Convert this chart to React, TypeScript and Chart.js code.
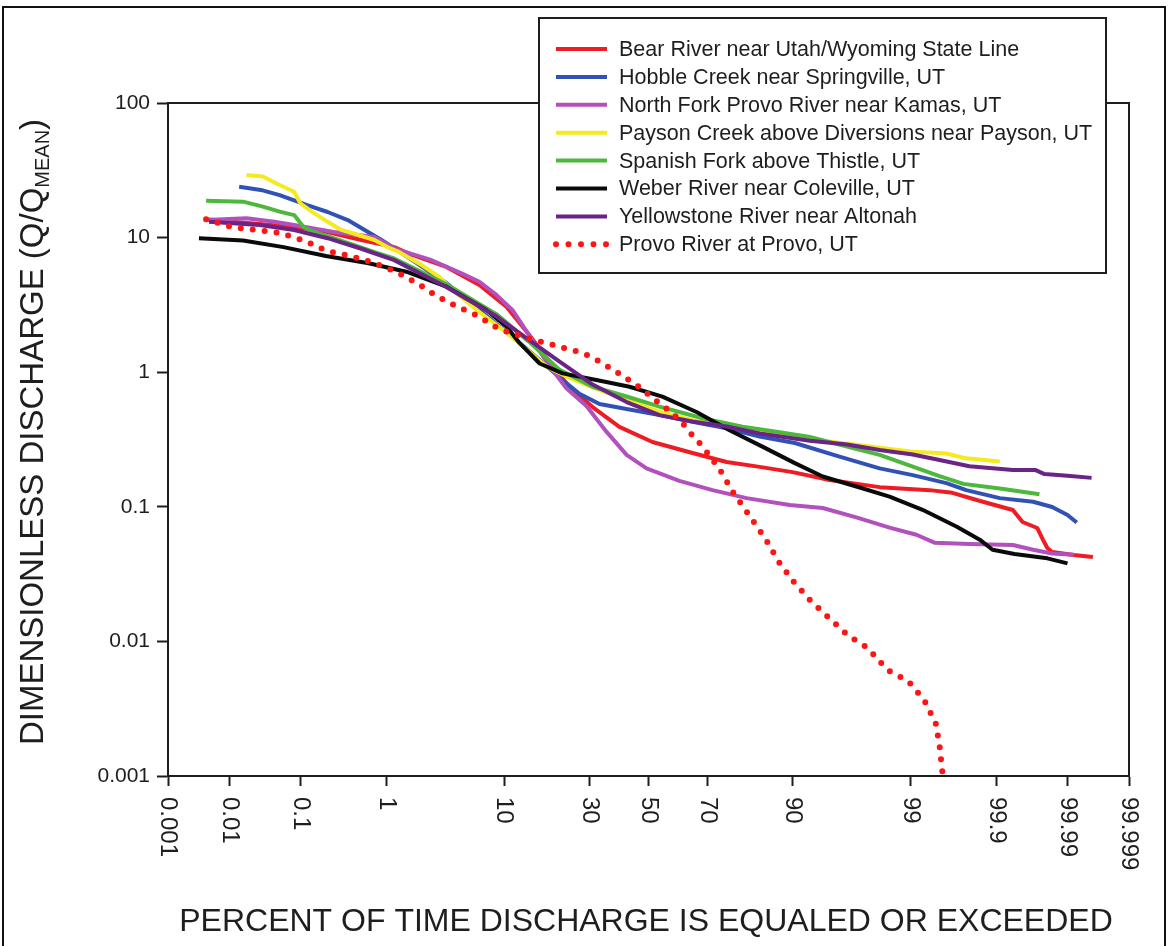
import React, { useEffect, useRef } from 'react';
import { Chart, Scale, registerables } from 'chart.js';

Chart.register(...registerables);

// ---------------- data ----------------
const X_TICKS = [0.001, 0.01, 0.1, 1, 10, 30, 50, 70, 90, 99, 99.9, 99.99, 99.999];
const X_TICK_LABELS = ['0.001', '0.01', '0.1', '1', '10', '30', '50', '70', '90', '99', '99.9', '99.99', '99.999'];
const Y_TICKS = [0.001, 0.01, 0.1, 1, 10, 100];
const Y_TICK_LABELS = ['0.001', '0.01', '0.1', '1', '10', '100'];

const SERIES_LABELS = [
  'Bear River near Utah/Wyoming State Line',
  'Hobble Creek near Springville, UT',
  'North Fork Provo River near Kamas, UT',
  'Payson Creek above Diversions near Payson, UT',
  'Spanish Fork above Thistle, UT',
  'Weber River near Coleville, UT',
  'Yellowstone River near Altonah',
  'Provo River at Provo, UT',
];

// percent of time exceeded / dimensionless discharge
const BEAR_P = [0.0043, 0.0099, 0.0275, 0.083, 0.218, 0.54, 1.2, 1.8, 3.64, 6.67, 10.4, 14.5, 19.0, 24.1, 31.0, 39.8, 51.4, 65.2, 75.6, 83.8, 89.95, 94.6, 97.99, 99.37, 99.65, 99.85, 99.939, 99.955, 99.972, 99.977, 99.980, 99.983, 99.992, 99.996];
const BEAR_Q = [13.7, 13.2, 12.6, 12.0, 11.0, 9.6, 8.5, 7.43, 6.05, 4.45, 3.05, 1.89, 1.19, 0.776, 0.551, 0.392, 0.303, 0.251, 0.215, 0.198, 0.181, 0.158, 0.14, 0.133, 0.127, 0.109, 0.0947, 0.0771, 0.0696, 0.0566, 0.0494, 0.0461, 0.0438, 0.0423];

const HOBBLE_P = [0.014, 0.029, 0.053, 0.12, 0.22, 0.38, 0.64, 0.89, 1.8, 3.64, 6.67, 11.35, 16.7, 22.3, 27.0, 33.2, 42.3, 53.9, 65.2, 75.6, 83.8, 90.3, 95.5, 97.99, 99.05, 99.59, 99.76, 99.909, 99.968, 99.983, 99.99, 99.9928];
const HOBBLE_Q = [23.9, 22.6, 20.7, 17.5, 15.5, 13.5, 11.0, 9.6, 6.82, 4.6, 2.9, 1.83, 1.23, 0.875, 0.69, 0.58, 0.533, 0.481, 0.429, 0.383, 0.332, 0.298, 0.236, 0.193, 0.172, 0.15, 0.133, 0.116, 0.109, 0.0997, 0.0869, 0.0764];

const NFORK_P = [0.0043, 0.018, 0.045, 0.083, 0.26, 0.75, 1.25, 2.59, 4.9, 6.67, 8.85, 11.35, 13.9, 18.3, 23.3, 29.1, 35.5, 42.3, 49.3, 60.8, 71.5, 80.8, 89.5, 93.9, 96.8, 98.38, 99.13, 99.45, 99.78, 99.939, 99.968, 99.983, 99.992];
const NFORK_Q = [13.5, 13.9, 13.1, 12.4, 11.0, 10.1, 8.2, 6.9, 5.4, 4.7, 3.75, 2.9, 2.03, 1.19, 0.76, 0.56, 0.36, 0.243, 0.193, 0.156, 0.133, 0.116, 0.103, 0.098, 0.083, 0.07, 0.062, 0.054, 0.053, 0.052, 0.048, 0.045, 0.044];

const PAYSON_P = [0.018, 0.031, 0.053, 0.083, 0.1, 0.14, 0.22, 0.32, 0.49, 0.75, 1.02, 1.35, 2.1, 3.17, 4.08, 6.67, 10.4, 18.3, 23.3, 31.0, 42.3, 53.9, 65.2, 75.6, 83.8, 91.0, 96.3, 99.05, 99.59, 99.76, 99.909];
const PAYSON_Q = [29.2, 28.4, 24.6, 21.9, 18.0, 15.6, 13.1, 11.4, 10.5, 9.6, 8.5, 7.8, 6.4, 5.1, 4.1, 2.8, 1.97, 1.1, 0.93, 0.77, 0.62, 0.51, 0.44, 0.395, 0.36, 0.324, 0.293, 0.257, 0.249, 0.229, 0.217];

const SPANISH_P = [0.0043, 0.016, 0.031, 0.053, 0.083, 0.11, 0.15, 0.26, 0.45, 0.75, 1.2, 3.64, 8.85, 14.5, 21.5, 31.0, 42.3, 53.9, 68.4, 79.8, 87.2, 92.4, 96.1, 97.99, 99.05, 99.51, 99.74, 99.909, 99.974];
const SPANISH_Q = [18.8, 18.5, 17.0, 15.6, 14.7, 12.0, 11.0, 9.9, 8.8, 7.8, 7.0, 4.5, 2.7, 1.68, 1.04, 0.78, 0.66, 0.555, 0.455, 0.394, 0.361, 0.33, 0.28, 0.243, 0.199, 0.169, 0.148, 0.137, 0.124];

const WEBER_P = [0.0033, 0.016, 0.06, 0.21, 0.65, 1.58, 3.64, 7.5, 10.4, 12.6, 16.7, 22.3, 32.2, 43.3, 54.9, 66.5, 76.4, 84.4, 90.3, 93.9, 96.8, 98.38, 99.25, 99.69, 99.836, 99.887, 99.942, 99.98, 99.99];
const WEBER_Q = [9.9, 9.5, 8.5, 7.3, 6.45, 5.58, 4.32, 2.9, 2.18, 1.65, 1.16, 0.98, 0.875, 0.78, 0.658, 0.506, 0.37, 0.28, 0.211, 0.168, 0.141, 0.119, 0.095, 0.071, 0.057, 0.048, 0.0446, 0.0414, 0.038];

const YELLOW_P = [0.0048, 0.028, 0.083, 0.22, 0.53, 1.2, 3.64, 8.85, 14.5, 21.5, 31.0, 42.3, 53.9, 65.2, 75.6, 83.8, 92.4, 96.1, 97.99, 99.05, 99.51, 99.78, 99.939, 99.97, 99.978, 99.99, 99.9958];
const YELLOW_Q = [13.1, 12.4, 11.4, 9.9, 8.3, 6.8, 4.3, 2.6, 1.73, 1.2, 0.81, 0.6, 0.48, 0.43, 0.395, 0.35, 0.31, 0.29, 0.264, 0.245, 0.223, 0.2, 0.188, 0.188, 0.175, 0.17, 0.164];

const PROVO_P = [0.0043, 0.0111, 0.026, 0.055, 0.113, 0.21, 0.4, 0.72, 1.25, 2.02, 2.97, 4.38, 6.3, 9.04, 10.9, 15.2, 20.6, 27.0, 30.7, 34.5, 38.1, 42.2, 46.2, 50.1, 53.9, 58.0, 61.8, 65.1, 68.5, 73.6, 77.3, 81.5, 85.1, 87.6, 90.1, 92.5, 94.4, 96.2, 97.4, 98.3, 98.94, 99.28, 99.46, 99.51, 99.55];
const PROVO_Q = [13.7, 11.9, 11.4, 10.8, 9.48, 8.0, 7.3, 6.55, 5.58, 4.57, 3.7, 3.1, 2.66, 2.12, 1.97, 1.75, 1.57, 1.41, 1.3, 1.15, 1.03, 0.9, 0.79, 0.68, 0.587, 0.504, 0.42, 0.341, 0.28, 0.19, 0.129, 0.0859, 0.0574, 0.0391, 0.0278, 0.02, 0.0153, 0.011, 0.00898, 0.00614, 0.00508, 0.00367, 0.00247, 0.0017, 0.001];

const SERIES_P = [BEAR_P, HOBBLE_P, NFORK_P, PAYSON_P, SPANISH_P, WEBER_P, YELLOW_P, PROVO_P];
const SERIES_Q = [BEAR_Q, HOBBLE_Q, NFORK_Q, PAYSON_Q, SPANISH_Q, WEBER_Q, YELLOW_Q, PROVO_Q];

// ---------------- styles ----------------
const COLORS = ['#ee1c24', '#3152b4', '#b251bd', '#f4ea1e', '#4db83c', '#0a0a0a', '#6a2386', '#ff1414'];
const DOTTED = [false, false, false, false, false, false, false, true];
const FONT = '"Liberation Sans", Arial, Helvetica, sans-serif';
const INK = '#1e1e1e';

// ---------------- normal probability helpers ----------------
function probit(p: number): number {
  const a = [-3.969683028665376e1, 2.209460984245205e2, -2.759285104469687e2, 1.38357751867269e2, -3.066479806614716e1, 2.506628277459239];
  const b = [-5.447609879822406e1, 1.615858368580409e2, -1.556989798598866e2, 6.680131188771972e1, -1.328068155288572e1];
  const c = [-7.784894002430293e-3, -3.223964580411365e-1, -2.400758277161838, -2.549732539343734, 4.374664141464968, 2.938163982698783];
  const d = [7.784695709041462e-3, 3.224671290700398e-1, 2.445134137142996, 3.754408661907416];
  const pl = 0.02425;
  if (p <= 0) return -8;
  if (p >= 1) return 8;
  if (p < pl) {
    const q = Math.sqrt(-2 * Math.log(p));
    return (((((c[0] * q + c[1]) * q + c[2]) * q + c[3]) * q + c[4]) * q + c[5]) / ((((d[0] * q + d[1]) * q + d[2]) * q + d[3]) * q + 1);
  }
  if (p <= 1 - pl) {
    const q = p - 0.5;
    const r = q * q;
    return ((((((a[0] * r + a[1]) * r + a[2]) * r + a[3]) * r + a[4]) * r + a[5]) * q) / (((((b[0] * r + b[1]) * r + b[2]) * r + b[3]) * r + b[4]) * r + 1);
  }
  const q = Math.sqrt(-2 * Math.log(1 - p));
  return -(((((c[0] * q + c[1]) * q + c[2]) * q + c[3]) * q + c[4]) * q + c[5]) / ((((d[0] * q + d[1]) * q + d[2]) * q + d[3]) * q + 1);
}

function normCdf(z: number): number {
  const t = 1 / (1 + 0.2316419 * Math.abs(z));
  const dd = 0.3989423 * Math.exp((-z * z) / 2);
  const pr = dd * t * (0.3193815 + t * (-0.3565638 + t * (1.781478 + t * (-1.821256 + t * 1.330274))));
  return z > 0 ? 1 - pr : pr;
}

class ProbabilityScale extends Scale {
  static id = 'probability';
  static defaults = {};
  _zMin: number;
  _zMax: number;
  determineDataLimits() {
    const { min, max } = (this as any).getUserBounds();
    (this as any).min = min;
    (this as any).max = max;
  }
  configure() {
    super.configure();
    this._zMin = probit((this as any).min / 100);
    this._zMax = probit((this as any).max / 100);
  }
  getLabelForValue(v: number) {
    return String(v);
  }
  getPixelForValue(v: number) {
    if (v === null || v === undefined || isNaN(v)) return NaN;
    const z = probit(v / 100);
    return (this as any).getPixelForDecimal((z - this._zMin) / (this._zMax - this._zMin));
  }
  getValueForPixel(px: number) {
    const d = (this as any).getDecimalForPixel(px);
    return normCdf(this._zMin + d * (this._zMax - this._zMin)) * 100;
  }
}
Chart.register(ProbabilityScale as any);

// ---------------- decoration plugin ----------------
const decorPlugin = {
  id: 'decor',
  beforeDatasetsDraw(chart: any) {
    const { ctx, chartArea: a } = chart;
    ctx.save();
    ctx.strokeStyle = INK;
    ctx.lineWidth = 2;
    ctx.beginPath();
    ctx.moveTo(a.left, a.top);
    ctx.lineTo(a.right, a.top);
    ctx.lineTo(a.right, a.bottom);
    ctx.stroke();
    ctx.restore();
  },
  afterDraw(chart: any) {
    const { ctx, chartArea: a } = chart;
    const xs = chart.scales.x;
    ctx.save();
    // x tick labels, rotated clockwise
    ctx.fillStyle = INK;
    ctx.font = `24px ${FONT}`;
    ctx.textAlign = 'left';
    ctx.textBaseline = 'middle';
    xs.ticks.forEach((t: any, i: number) => {
      const x = xs.getPixelForValue(t.value);
      ctx.save();
      ctx.translate(x, a.bottom + 21);
      ctx.rotate(Math.PI / 2);
      ctx.fillText(X_TICK_LABELS[i], 0, 0);
      ctx.restore();
    });

    // x axis title
    ctx.font = `32px ${FONT}`;
    ctx.textAlign = 'center';
    ctx.textBaseline = 'alphabetic';
    ctx.fillText('PERCENT OF TIME DISCHARGE IS EQUALED OR EXCEEDED', 646, 931);

    // y axis title with subscript
    const mainT = 'DIMENSIONLESS DISCHARGE (Q/Q';
    const subT = 'MEAN';
    const closeT = ')';
    ctx.font = `33px ${FONT}`;
    const wMain = ctx.measureText(mainT).width;
    const wClose = ctx.measureText(closeT).width;
    ctx.font = `20px ${FONT}`;
    const wSub = ctx.measureText(subT).width;
    const total = wMain + wSub + wClose;
    ctx.save();
    ctx.translate(43, 432);
    ctx.rotate(-Math.PI / 2);
    ctx.textAlign = 'left';
    let x0 = -total / 2;
    ctx.font = `33px ${FONT}`;
    ctx.fillText(mainT, x0, 0);
    x0 += wMain;
    ctx.font = `20px ${FONT}`;
    ctx.fillText(subT, x0, 6);
    x0 += wSub;
    ctx.font = `33px ${FONT}`;
    ctx.fillText(closeT, x0, 0);
    ctx.restore();

    // legend box
    const lx = 539, ly = 18, lw = 567, lh = 255;
    ctx.fillStyle = '#ffffff';
    ctx.fillRect(lx, ly, lw, lh);
    ctx.strokeStyle = INK;
    ctx.lineWidth = 2;
    ctx.strokeRect(lx, ly, lw, lh);
    ctx.font = `21.5px ${FONT}`;
    ctx.textAlign = 'left';
    ctx.textBaseline = 'middle';
    chart.data.datasets.forEach((ds: any, i: number) => {
      const y = 49 + i * 27.9;
      ctx.save();
      ctx.strokeStyle = ds.borderColor;
      if (ds.borderDash && ds.borderDash.length) {
        ctx.lineWidth = 6;
        ctx.lineCap = 'round';
        ctx.setLineDash([0, 12.5]);
      } else {
        ctx.lineWidth = 4;
        ctx.lineCap = 'butt';
      }
      ctx.beginPath();
      ctx.moveTo(556, y);
      ctx.lineTo(607, y);
      ctx.stroke();
      ctx.restore();
      ctx.fillStyle = INK;
      ctx.fillText(ds.label, 619, y + 1);
    });

    // outer figure border
    ctx.strokeStyle = '#111';
    ctx.lineWidth = 2;
    ctx.beginPath();
    ctx.moveTo(3, 946);
    ctx.lineTo(3, 7);
    ctx.lineTo(1165, 7);
    ctx.lineTo(1165, 946);
    ctx.stroke();
    ctx.restore();
  },
};

export default function App() {
  const ref = useRef<HTMLCanvasElement>(null);
  useEffect(() => {
    if (!ref.current) return;
    const n = SERIES_LABELS.length;
    const datasets = SERIES_LABELS.map((label, i) => ({
      label,
      data: SERIES_P[i].map((p, j) => ({ x: p, y: SERIES_Q[i][j] })),
      borderColor: COLORS[i],
      backgroundColor: COLORS[i],
      borderWidth: DOTTED[i] ? 6 : 4,
      borderDash: DOTTED[i] ? [0, 12] : [],
      borderCapStyle: DOTTED[i] ? 'round' : 'butt',
      borderJoinStyle: 'round',
      pointRadius: 0,
      tension: 0,
      fill: false,
      order: n - i,
    }));
    const chart = new Chart(ref.current, {
      type: 'line',
      data: { datasets } as any,
      options: {
        responsive: false,
        animation: false,
        devicePixelRatio: 1,
        events: [],
        layout: { padding: { top: 103, right: 41, bottom: 0, left: 0 } },
        plugins: { legend: { display: false }, tooltip: { enabled: false }, title: { display: false } },
        scales: {
          x: {
            type: 'probability' as any,
            position: 'bottom',
            min: 0.001,
            max: 99.999,
            afterBuildTicks: (s: any) => {
              s.ticks = X_TICKS.map((v) => ({ value: v }));
            },
            afterFit: (s: any) => {
              s.height = 170;
            },
            ticks: { display: false, callback: (_v: any, i: number) => X_TICK_LABELS[i] },
            grid: { display: true, drawOnChartArea: false, drawTicks: true, tickLength: 10, tickColor: INK, tickWidth: 2 },
            border: { display: true, color: INK, width: 2 },
          } as any,
          y: {
            type: 'logarithmic',
            position: 'left',
            min: 0.001,
            max: 100,
            afterBuildTicks: (s: any) => {
              s.ticks = Y_TICKS.map((v) => ({ value: v }));
            },
            afterFit: (s: any) => {
              s.width = 168;
            },
            ticks: {
              autoSkip: false,
              callback: (_v: any, i: number) => Y_TICK_LABELS[i],
              font: { family: FONT, size: 21 },
              color: INK,
              padding: 7,
            },
            grid: { display: true, drawOnChartArea: false, drawTicks: true, tickLength: 11, tickColor: INK, tickWidth: 2 },
            border: { display: true, color: INK, width: 2 },
          } as any,
        },
      } as any,
      plugins: [decorPlugin],
    });
    return () => chart.destroy();
  }, []);
  return (
    <div style={{ position: 'absolute', left: 0, top: 0, width: 1170, height: 946, background: '#fff' }}>
      <canvas ref={ref} width={1170} height={946} style={{ display: 'block' }} />
    </div>
  );
}
